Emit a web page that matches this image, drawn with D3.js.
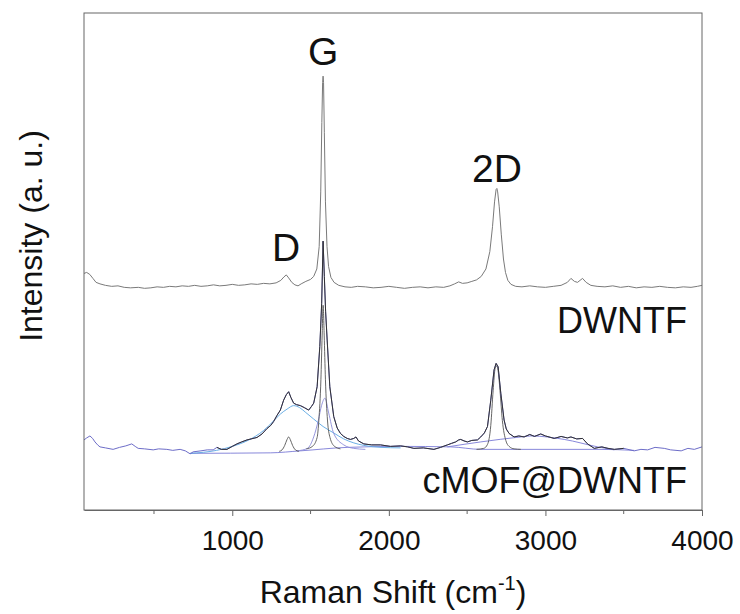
<!DOCTYPE html>
<html>
<head>
<meta charset="utf-8">
<script src="https://cdn.jsdelivr.net/npm/d3@7"></script>
<style>
  body { margin: 0; background: #fff; }
  svg { font-family: Arial, "Liberation Sans", sans-serif; }
</style>
</head>
<body>
<svg id="chart"></svg>
<script>
// ---- data (Raman shift in cm-1, intensity in arbitrary units) ----
const xTicks = [1000, 2000, 3000, 4000];
const xMinorTicks = [500, 1500, 2500, 3500];

// pristine DWNTF spectrum (offset up)
const dwntf = [
  [53,476],[70,478],[90,474],[110,466],[130,458],[155,455],[190,452],[230,450],[270,451],
  [310,448],[350,447],[400,448],[440,446],[480,447],[520,449],[560,448],[600,450],[640,449],
  [680,451],[720,450],[760,452],[800,450],[840,451],[880,453],[920,451],[960,452],[1000,454],
  [1040,452],[1080,453],[1120,455],[1160,454],[1200,456],[1240,455],[1280,457],[1310,462],
  [1330,469],[1345,473],[1360,467],[1380,458],[1400,453],[1420,451],[1440,455],[1470,460],
  [1500,464],[1520,470],[1540,485],[1555,530],[1565,640],[1572,780],[1577,860],[1580,873],
  [1583,860],[1588,760],[1595,620],[1605,530],[1615,490],[1630,468],[1650,458],[1680,452],
  [1720,449],[1760,448],[1800,450],[1850,449],[1900,447],[1950,448],[2000,450],[2050,448],
  [2100,446],[2150,448],[2200,449],[2250,447],[2300,449],[2350,448],[2390,451],[2420,455],
  [2446,459],[2470,456],[2500,457],[2530,460],[2560,463],[2590,470],[2620,485],[2645,520],
  [2662,570],[2675,620],[2685,645],[2690,647],[2695,640],[2705,610],[2718,555],[2732,505],
  [2745,478],[2760,462],[2780,454],[2810,450],[2850,449],[2900,451],[2950,449],[3000,448],
  [3050,450],[3100,452],[3140,458],[3163,466],[3185,460],[3205,458],[3237,466],[3260,458],
  [3290,452],[3330,450],[3380,449],[3430,451],[3480,448],[3530,450],[3580,447],[3630,449],
  [3680,448],[3730,450],[3780,448],[3830,447],[3880,449],[3930,448],[3970,450],[4000,452]
];

// cMOF@DWNTF measured spectrum
const cmof = [
  [53,141],[70,145],[91,149],[108,144],[123,137],[140,131],[155,127],[190,125],[239,122],
  [280,126],[320,129],[358,133],[380,128],[399,124],[440,123],[495,121],[530,123],[582,122],
  [620,120],[667,122],[700,119],[731,113],[750,117],[800,119],[840,121],[878,121],[902,126],
  [930,122],[966,122],[1000,128],[1030,133],[1060,137],[1094,141],[1120,143],[1158,146],
  [1190,153],[1222,164],[1245,170],[1264,178],[1285,190],[1307,201],[1328,221],[1345,232],
  [1360,238],[1375,226],[1392,215],[1410,212],[1435,210],[1460,206],[1488,201],[1505,208],
  [1520,215],[1542,248],[1559,329],[1571,416],[1580,541],[1588,470],[1596,400],[1606,342],
  [1623,248],[1648,188],[1670,165],[1691,154],[1712,148],[1734,144],[1755,142],[1776,144],
  [1790,147],[1806,139],[1840,133],[1890,131],[1947,131],[2010,128],[2075,129],[2120,127],
  [2160,124],[2220,125],[2288,122],[2330,126],[2374,131],[2400,134],[2427,137],[2446,141],
  [2459,142],[2480,139],[2502,137],[2530,140],[2566,141],[2587,147],[2610,155],[2630,168],
  [2651,221],[2672,282],[2685,295],[2698,288],[2715,235],[2736,181],[2750,163],[2768,154],
  [2800,147],[2830,149],[2864,147],[2900,152],[2930,148],[2970,153],[3000,149],[3056,144],
  [3100,148],[3140,145],[3163,147],[3200,143],[3237,144],[3269,133],[3312,124],[3360,127],
  [3400,124],[3440,122],[3500,124],[3567,119],[3610,122],[3653,121],[3700,126],[3759,124],
  [3800,121],[3867,119],[3910,124],[3951,122],[4000,127]
];

// fitted components of cMOF@DWNTF
const fitBaseline = [[731,114],[1243,115],[1435,119],[1734,126],[2075,128],[2395,127],[2587,122],[2843,122],[3355,122],[3567,120]];
const fitBroadD = [
  [731,114],[900,120],[1000,128],[1100,140],[1200,160],[1260,178],[1307,193],[1350,203],
  [1392,210],[1430,206],[1470,196],[1520,183],[1580,168],[1648,155],[1712,143],[1776,135],
  [1840,130],[1950,126],[2075,125]
];
const fitD = [[1300,118],[1318,121],[1335,130],[1350,142],[1360,147],[1370,142],[1385,130],[1403,121],[1425,118]];
const fitShoulder = [[1414,119],[1480,124],[1520,147],[1550,181],[1570,210],[1592,225],[1616,195],[1648,154],[1712,131],[1776,124],[1850,122]];
const fitG = [[1473,123],[1512,128],[1542,146],[1553,181],[1566,262],[1574,352],[1580,412],[1587,352],[1595,262],[1608,181],[1624,146],[1653,128],[1691,123]];
const fit2D = [[2560,122],[2606,124],[2630,132],[2651,170],[2666,240],[2679,285],[2689,290],[2698,280],[2710,240],[2725,180],[2747,140],[2768,128],[2800,123],[2843,122]];
const fitBroad2D = [[2374,127],[2587,137],[2843,147],[2907,149],[3120,142],[3334,127],[3440,121]];

// peak labels: [text, raman shift]
const peakLabels = [["D", 1344], ["G", 1580], ["2D", 2690]];

// ---- layout ----
const width = 740;
const height = 614;
const margin = { left: 84, right: 38, top: 13, bottom: 104 };
const visWidth = width - margin.left - margin.right;
const visHeight = height - margin.top - margin.bottom;

const svg = d3.select('svg#chart').attr('width', width).attr('height', height);
const g = svg.append('g').attr('transform', 'translate(' + margin.left + ',' + margin.top + ')');

const x = d3.scaleLinear().domain([53, 4000]).range([0, visWidth]);
const y = d3.scaleLinear().domain([0, 1000]).range([visHeight, 0]);

const rawLine = d3.line().x(d => x(d[0])).y(d => y(d[1]));
const smoothLine = d3.line().x(d => x(d[0])).y(d => y(d[1])).curve(d3.curveMonotoneX);

// fitted components first, spectra on top
const comps = [
  { data: fitBaseline, color: '#7b7bd6' },
  { data: fitBroadD, color: '#5aa6e2' },
  { data: fitBroad2D, color: '#7b7bd6' },
  { data: fitShoulder, color: '#8a8ad8' },
  { data: fitD, color: '#555' },
  { data: fitG, color: '#555' },
  { data: fit2D, color: '#555' }
];
g.selectAll('path.comp').data(comps).enter().append('path')
  .attr('class', 'comp')
  .attr('d', d => smoothLine(d.data))
  .attr('fill', 'none')
  .attr('stroke', d => d.color)
  .attr('stroke-width', 0.9);

// measured cMOF@DWNTF (blue) + cumulative fit range drawn dark
g.append('path').attr('d', rawLine(cmof))
  .attr('fill', 'none').attr('stroke', '#6d6dc8').attr('stroke-width', 1);
g.append('path').attr('d', rawLine(cmof.filter(d => d[0] >= 880 && d[0] <= 3560)))
  .attr('fill', 'none').attr('stroke', '#333').attr('stroke-width', 1);

// DWNTF
g.append('path').attr('d', rawLine(dwntf))
  .attr('fill', 'none').attr('stroke', '#7a7a7a').attr('stroke-width', 1);

// frame
g.append('rect').attr('x', 0).attr('y', 0).attr('width', visWidth).attr('height', visHeight)
  .attr('fill', 'none').attr('stroke', '#666').attr('stroke-width', 1);

// x axis
const xAxis = g.append('g').attr('transform', 'translate(0,' + visHeight + ')')
  .call(d3.axisBottom(x).tickValues(xTicks).tickSize(6).tickSizeOuter(0).tickFormat(d3.format('d')));
xAxis.select('.domain').attr('stroke', '#666');
xAxis.selectAll('.tick line').attr('stroke', '#666');
xAxis.selectAll('.tick text').attr('y', 20).attr('font-size', 28).attr('fill', '#111')
  .attr('font-family', 'Arial, "Liberation Sans", sans-serif');

g.append('g').attr('transform', 'translate(0,' + visHeight + ')')
  .selectAll('line').data(xMinorTicks).enter().append('line')
  .attr('x1', d => x(d)).attr('x2', d => x(d)).attr('y1', 0).attr('y2', 4)
  .attr('stroke', '#666');

// axis titles
const xTitle = svg.append('text').attr('x', margin.left + visWidth / 2).attr('y', 603)
  .attr('text-anchor', 'middle').attr('font-size', 32).attr('fill', '#111');
xTitle.append('tspan').text('Raman Shift (cm');
xTitle.append('tspan').attr('font-size', 20).attr('dy', -13).text('-1');
xTitle.append('tspan').attr('dy', 13).text(')');

svg.append('text').attr('transform', 'translate(42,236) rotate(-90)')
  .attr('text-anchor', 'middle').attr('font-size', 32).attr('fill', '#111')
  .text('Intensity (a. u.)');

// peak labels
const labelY = { D: 261 - margin.top, G: 65 - margin.top, '2D': 182 - margin.top };
g.selectAll('text.peak').data(peakLabels).enter().append('text')
  .attr('class', 'peak')
  .attr('x', d => x(d[1]))
  .attr('y', d => labelY[d[0]])
  .attr('text-anchor', 'middle').attr('font-size', 39).attr('fill', '#111')
  .text(d => d[0]);

// sample labels
g.append('text').attr('x', visWidth - 15).attr('y', 333 - margin.top)
  .attr('text-anchor', 'end').attr('font-size', 36).attr('fill', '#111').text('DWNTF');
g.append('text').attr('x', visWidth - 15).attr('y', 493 - margin.top)
  .attr('text-anchor', 'end').attr('font-size', 36).attr('fill', '#111').text('cMOF@DWNTF');
</script>
</body>
</html>
